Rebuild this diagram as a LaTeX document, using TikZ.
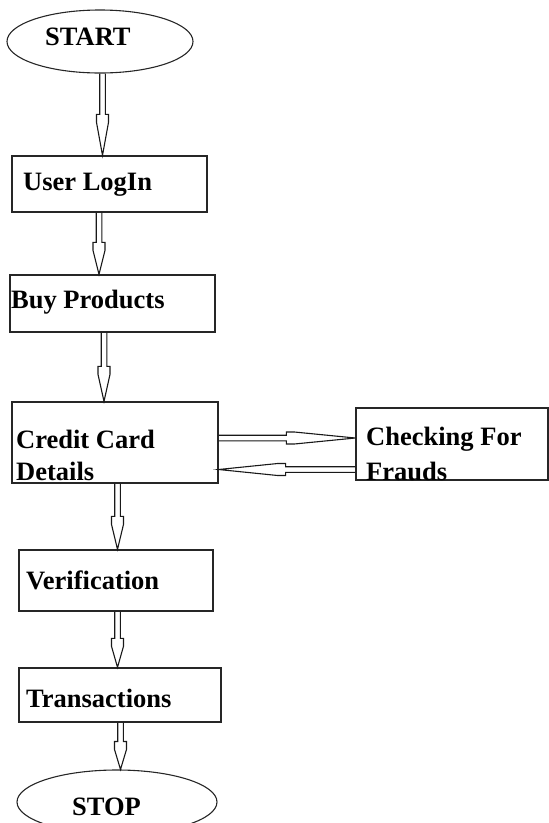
\documentclass[tikz,border=0pt]{standalone}
\usepackage{fontspec}
\setmainfont{Liberation Serif}
\usetikzlibrary{calc,shapes.geometric}

% Hollow block arrow: #1 tail coordinate, #2 tip coordinate, #3 head length (pt)
\newcommand\blockarrow[3]{%
  \pgfmathsetmacro\bataper{#3-8}%
  \draw[conn] ($(#1)!2.8pt!90:(#2)$)
    -- ($(#2)!#3pt!(#1)!2.8pt!-90:(#1)$)
    -- ($(#2)!#3pt!(#1)!6pt!-90:(#1)$)
    -- ($(#2)!\bataper pt!(#1)!6pt!-90:(#1)$)
    -- (#2)
    -- ($(#2)!\bataper pt!(#1)!6pt!90:(#1)$)
    -- ($(#2)!#3pt!(#1)!6pt!90:(#1)$)
    -- ($(#2)!#3pt!(#1)!2.8pt!90:(#1)$)
    -- ($(#1)!2.8pt!-90:(#2)$);
}

\begin{document}
\begin{tikzpicture}[x=1pt,y=-1pt,
  box/.style={draw=black!85, line width=1.3pt, rectangle, inner sep=0pt},
  oval/.style={draw=black!85, line width=1.1pt, ellipse, inner sep=0pt},
  lbl/.style={font=\fontsize{26.5}{30}\selectfont\bfseries, inner sep=0pt, anchor=base west},
  conn/.style={draw=black!90, line width=1.1pt, line join=miter}]
\useasboundingbox (0,0) rectangle (549,823);

% shapes
\node[oval, minimum width=186, minimum height=63] (start) at (100,41.5) {};
\node[box, minimum width=195, minimum height=56] (login) at (109.5,184) {};
\node[box, minimum width=205, minimum height=57] (buy) at (112.5,303.5) {};
\node[box, minimum width=206, minimum height=81] (credit) at (115,442.5) {};
\node[box, minimum width=192, minimum height=72] (fraud) at (452,444) {};
\node[box, minimum width=194, minimum height=61] (verif) at (116,580.5) {};
\node[box, minimum width=202, minimum height=54] (trans) at (120,695) {};
\node[oval, minimum width=200, minimum height=64] (stop) at (117,802) {};

% labels
\node[lbl] (startT) at (45,45) {START};
\node[lbl] (loginT) at (23,190) {User LogIn};
\node[lbl] (buyT) at (11,308) {Buy Products};
\node[lbl] (creditT1) at (16,448) {Credit Card};
\node[lbl] (creditT2) at (16,480) {Details};
\node[lbl] (fraudT1) at (366,445) {Checking For};
\node[lbl] (fraudT2) at (366,480) {Frauds};
\node[lbl] (verifT) at (26,589) {Verification};
\node[lbl] (transT) at (26,707) {Transactions};
\node[lbl] (stopT) at (72,815) {STOP};

% connectors
\coordinate (a1t) at ([xshift=2.5pt]start.south);
\coordinate (a1h) at (login.north -| a1t);
\blockarrow{a1t}{a1h}{41}

\coordinate (a2t) at ([xshift=-10.5pt]login.south);
\coordinate (a2h) at (buy.north -| a2t);
\blockarrow{a2t}{a2h}{32}

\coordinate (a3t) at ([xshift=-8.5pt]buy.south);
\coordinate (a3h) at (credit.north -| a3t);
\blockarrow{a3t}{a3h}{35}

\coordinate (a4t) at ([xshift=2.5pt]credit.south);
\coordinate (a4h) at (verif.north -| a4t);
\blockarrow{a4t}{a4h}{33}

\coordinate (a5t) at ([xshift=1.5pt]verif.south);
\coordinate (a5h) at (trans.north -| a5t);
\blockarrow{a5t}{a5h}{29}

\coordinate (a6t) at ([xshift=0.5pt]trans.south);
\coordinate (a6h) at (stop.north -| a6t);
\blockarrow{a6t}{a6h}{28}

\coordinate (a7t) at ([yshift=4.5pt]credit.east);
\coordinate (a7h) at (fraud.west |- a7t);
\blockarrow{a7t}{a7h}{69}

\coordinate (a8t) at ([yshift=-25.5pt]fraud.west);
\coordinate (a8h) at (credit.east |- a8t);
\blockarrow{a8t}{a8h}{67}
\end{tikzpicture}
\end{document}
